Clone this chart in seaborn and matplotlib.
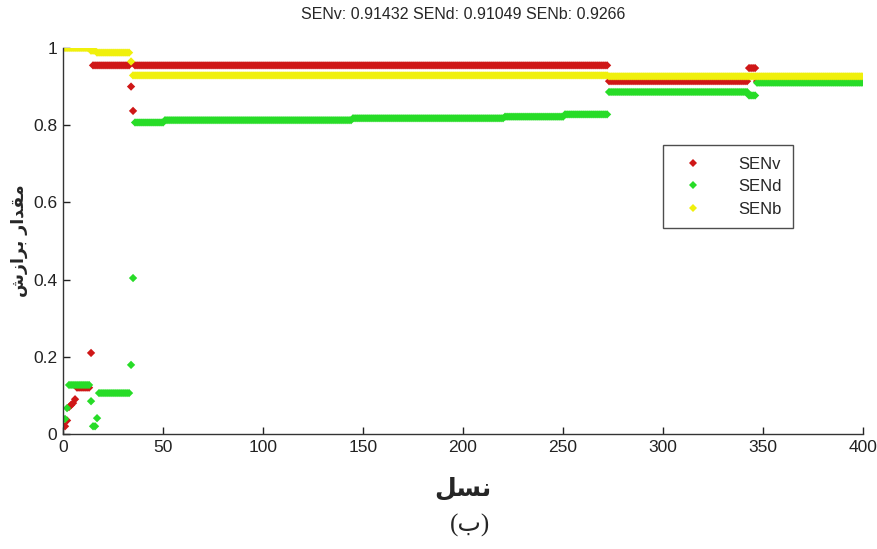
import numpy as np
import pandas as pd
import seaborn as sns
import matplotlib.pyplot as plt

# step runs: (number of generations, value)
senv_runs = [(1, 0.020), (1, 0.035), (1, 0.070), (1, 0.075), (1, 0.080), (1, 0.090),
             (7, 0.120), (1, 0.210), (19, 0.955), (1, 0.900), (1, 0.837),
             (237, 0.955), (70, 0.914), (4, 0.948), (54, 0.914)]
send_runs = [(1, 0.039), (1, 0.067), (11, 0.127), (1, 0.085), (2, 0.020), (1, 0.041),
             (16, 0.106), (1, 0.179), (1, 0.404), (15, 0.807), (94, 0.813),
             (76, 0.818), (30, 0.822), (22, 0.828), (70, 0.886), (4, 0.877), (54, 0.910)]
senb_runs = [(13, 1.000), (3, 0.993), (17, 0.988), (1, 0.965), (238, 0.929), (128, 0.9266)]

series_names = ['SENv', 'SENd', 'SENb']
series_colors = ['#cf1717', '#27dc27', '#f0f00c']
title_text = 'SENv: 0.91432 SENd: 0.91049 SENb: 0.9266'
x_ticks = [0, 50, 100, 150, 200, 250, 300, 350, 400]
y_ticks = [0, 0.2, 0.4, 0.6, 0.8, 1]


def expand(runs):
    counts = [r[0] for r in runs]
    vals = [r[1] for r in runs]
    return np.repeat(vals, counts)


frames = []
for name, runs in zip(series_names, [senv_runs, send_runs, senb_runs]):
    v = expand(runs)
    frames.append(pd.DataFrame({'gen': np.arange(1, len(v) + 1), 'value': v, 'series': name}))
df = pd.concat(frames, ignore_index=True)

sns.set_style('white')
plt.rcParams['font.family'] = ['Liberation Sans', 'DejaVu Sans']

fig = plt.figure(figsize=(8.78, 5.49), dpi=100)
ax = fig.add_axes([0.0718, 0.2095, 0.9112, 0.7031])

sns.scatterplot(data=df, x='gen', y='value', hue='series', hue_order=series_names,
                palette=series_colors, marker='D', s=18, linewidth=0, ax=ax)

ax.set_xlim(0, 400)
ax.set_ylim(0, 1)
ax.set_xticks(x_ticks)
ax.set_yticks(y_ticks)
ax.set_yticklabels(['0', '0.2', '0.4', '0.6', '0.8', '1'])
ax.tick_params(direction='in', length=5, width=1, labelsize=12.5, colors='#222222',
               bottom=True, left=True, pad=4)
for s in ['top', 'right']:
    ax.spines[s].set_visible(False)
for s in ['left', 'bottom']:
    ax.spines[s].set_color('#333333')
    ax.spines[s].set_linewidth(1)

ax.set_title(title_text, fontsize=11.5, pad=21)

# Persian labels (presentation forms, visual order)
ax.set_xlabel('\uFEDE\uFEB4\uFEE7', fontsize=18, fontweight='bold',
              family=['DejaVu Sans'], labelpad=16)
ax.set_ylabel('\uFEB5\uFEAF\uFE8D\uFEAE\uFE91 \uFEAD\uFE8D\uFEAA\uFED8\uFEE3', fontsize=12.5,
              fontweight='bold', family=['DejaVu Sans'], labelpad=4)
fig.text(0.535, 0.043, '(\u0628)', ha='center', va='center', fontsize=18,
         family=['Liberation Serif', 'DejaVu Sans'])

leg = ax.legend(loc='upper left', bbox_to_anchor=(0.75, 0.749), frameon=True,
                fancybox=False, fontsize=12, markerscale=0.85, borderpad=0.7,
                handletextpad=1.6, labelspacing=0.45, borderaxespad=0, handlelength=2.2)
leg.get_frame().set_edgecolor('#222222')
leg.get_frame().set_linewidth(1)

fig.savefig('out.png', dpi=100)
